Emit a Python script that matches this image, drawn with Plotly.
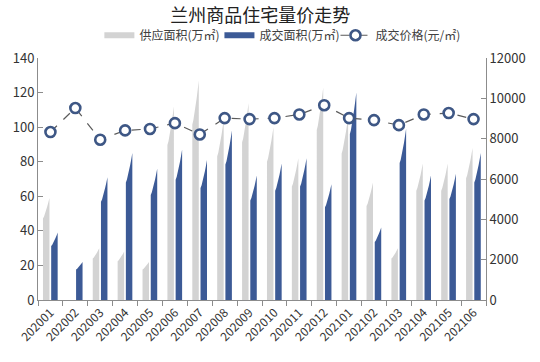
import plotly.graph_objects as go

months = ['202001', '202002', '202003', '202004', '202005', '202006', '202007', '202008', '202009',
          '202010', '202011', '202012', '202101', '202102', '202103', '202104', '202105', '202106']
supply = [59, 0, 30, 28, 22, 112, 127, 104, 114, 100, 82, 123, 106, 68, 30, 79, 79, 88]
deal = [39, 22, 71, 85, 76, 87, 81, 98, 72, 79, 82, 67, 120, 42, 99, 72, 73, 85]
price = [8330, 9520, 7950, 8410, 8480, 8770, 8210, 9020, 8970, 9020, 9200, 9660, 9020, 8920, 8670, 9200, 9270, 8970]

GRAY = '#d3d3d3'
BLUE = '#3c5a96'


def wedge_polys(values, x_off0, x_off1, base_frac=0.8):
    xs, ys = [], []
    for i, v in enumerate(values):
        if v <= 0:
            continue
        x0, x1 = i + x_off0, i + x_off1
        pts = [(x0, 0), (x0, v * base_frac)]
        n = 6
        for k in range(1, n + 1):
            t = k / n
            pts.append((x0 + (x1 - x0) * t, v * base_frac + v * (1 - base_frac) * (t ** 1.3)))
        pts.append((x1, 0))
        pts.append((x0, 0))
        for p in pts:
            xs.append(p[0])
            ys.append(p[1])
        xs.append(None)
        ys.append(None)
    return xs, ys


fig = go.Figure()

gx, gy = wedge_polys(supply, -0.30, -0.04)
fig.add_trace(go.Scatter(x=gx, y=gy, fill='toself', fillcolor=GRAY, mode='lines',
                         line=dict(width=0, color=GRAY), showlegend=False, hoverinfo='skip'))
bx, by = wedge_polys(deal, 0.03, 0.29)
fig.add_trace(go.Scatter(x=bx, y=by, fill='toself', fillcolor=BLUE, mode='lines',
                         line=dict(width=0, color=BLUE), showlegend=False, hoverinfo='skip'))

# legend entries
fig.add_trace(go.Scatter(x=[None], y=[None], mode='lines', name='供应面积(万㎡)',
                         line=dict(color=GRAY, width=6), legend='legend'))
fig.add_trace(go.Scatter(x=[None], y=[None], mode='lines', name='成交面积(万㎡)',
                         line=dict(color=BLUE, width=6), legend='legend2'))

fig.add_trace(go.Scatter(x=list(range(len(months))), y=price, yaxis='y2', mode='lines+markers',
                         name='成交价格(元/㎡)', legend='legend3',
                         line=dict(color='#5a5a5a', width=1.2, dash='dash'),
                         marker=dict(size=10, color='white', line=dict(color='#3e5785', width=2.6))))

axis_font = dict(family='Noto Sans CJK SC, sans-serif', size=13, color='#333333')
leg_common = dict(orientation='h', xanchor='left', y=1.094, yanchor='middle',
                  font=dict(size=12, color='#404040'), itemwidth=30,
                  bgcolor='rgba(0,0,0,0)')

fig.update_layout(
    width=540, height=362,
    margin=dict(l=38, r=54, t=58, b=62, autoexpand=False),
    paper_bgcolor='white', plot_bgcolor='white',
    font=dict(family='Noto Sans CJK SC, sans-serif', color='#333333'),
    title=dict(text='兰州商品住宅量价走势', x=0.482, xanchor='center', y=0.956, yanchor='middle',
               font=dict(size=18, color='#222222')),
    legend=dict(x=0.137, **leg_common),
    legend2=dict(x=0.405, **leg_common),
    legend3=dict(x=0.664, **leg_common),
    xaxis=dict(range=[-0.5, len(months) - 0.5], tickmode='array',
               tickvals=list(range(len(months))), ticktext=months, tickangle=-45,
               ticks='', showline=True, linecolor='#8c8c8c', linewidth=1,
               showgrid=False, zeroline=False, tickfont=dict(size=12, color='#333333'),
               minor=dict(tickmode='linear', tick0=-0.5, dtick=1, ticks='outside',
                          ticklen=5, tickcolor='#8c8c8c', showgrid=False)),
    yaxis=dict(range=[0, 140], dtick=20, showline=True, linecolor='#8c8c8c', linewidth=1,
               ticks='inside', ticklen=5, tickcolor='#8c8c8c', showgrid=False, zeroline=False,
               tickfont=axis_font),
    yaxis2=dict(range=[0, 12000], dtick=2000, tickformat='d', overlaying='y', side='right',
                showline=True, linecolor='#8c8c8c', linewidth=1, ticks='inside', ticklen=5,
                tickcolor='#8c8c8c', showgrid=False, zeroline=False, tickfont=axis_font),
)

fig.write_html('out.html', config={'displayModeBar': False},
               post_script="document.body.style.margin='0';")
